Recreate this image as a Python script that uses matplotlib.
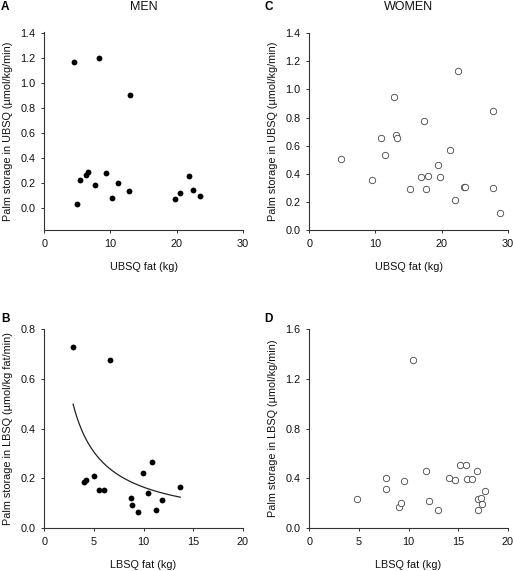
import numpy as np
import matplotlib
matplotlib.use("Agg")
from matplotlib import pyplot as plt

plt.rcParams['font.family'] = ['Liberation Sans', 'DejaVu Sans']

# Panel A - men, upper body subcutaneous fat
men_ubsq_fat = [4.5, 8.3, 13.0, 4.9, 5.45, 6.35, 6.55, 7.7, 9.4, 10.3, 11.15, 12.8,
                19.8, 20.5, 21.9, 22.5, 23.6]
men_ubsq_storage = [1.165, 1.20, 0.905, 0.035, 0.224, 0.267, 0.289, 0.18, 0.28, 0.077,
                    0.198, 0.134, 0.069, 0.118, 0.259, 0.142, 0.099]

# Panel B - men, lower body subcutaneous fat
men_lbsq_fat = [2.9, 6.6, 4.0, 4.2, 5.0, 5.55, 6.0, 8.7, 8.8, 9.4, 9.9, 10.5, 10.9,
                11.3, 11.9, 13.7]
men_lbsq_storage = [0.728, 0.677, 0.184, 0.194, 0.208, 0.153, 0.155, 0.122, 0.094, 0.063,
                    0.221, 0.142, 0.264, 0.074, 0.113, 0.164]
# power fit y = a * x^b shown in panel B
fit_a = 1.294
fit_b = -0.896
fit_range = (2.9, 13.7)

# Panel C - women, upper body subcutaneous fat
women_ubsq_fat = [4.75, 9.45, 10.9, 11.4, 12.8, 13.05, 13.25, 15.15, 16.85, 17.35, 17.7,
                  17.9, 19.4, 19.8, 21.3, 22.0, 22.45, 23.35, 23.55, 27.7, 27.75, 28.8]
women_ubsq_storage = [0.508, 0.356, 0.655, 0.532, 0.945, 0.674, 0.653, 0.294, 0.375, 0.776,
                      0.294, 0.382, 0.465, 0.38, 0.57, 0.216, 1.13, 0.308, 0.306, 0.85,
                      0.301, 0.123]

# Panel D - women, lower body subcutaneous fat
women_lbsq_fat = [4.8, 7.7, 7.7, 9.0, 9.2, 9.55, 10.4, 11.8, 12.05, 13.0, 14.05, 14.7,
                  15.2, 15.8, 15.9, 16.4, 16.9, 16.95, 17.0, 17.3, 17.4, 17.7]
women_lbsq_storage = [0.236, 0.40, 0.317, 0.172, 0.199, 0.376, 1.356, 0.462, 0.22, 0.148,
                      0.40, 0.387, 0.505, 0.507, 0.395, 0.392, 0.456, 0.231, 0.148, 0.239,
                      0.196, 0.298]


fig = plt.figure(figsize=(5.13, 5.71), dpi=100)

left1, left2, w = 0.0864, 0.603, 0.3868
axA = fig.add_axes([left1, 0.5972, w, 0.3473])
axC = fig.add_axes([left2, 0.5972, w, 0.3445])
axB = fig.add_axes([left1, 0.0753, w, 0.348])
axD = fig.add_axes([left2, 0.0753, w, 0.348])


def style(ax, xlabel, ylabel):
    for s in ['top', 'right']:
        ax.spines[s].set_visible(False)
    for s in ['left', 'bottom']:
        ax.spines[s].set_linewidth(0.8)
        ax.spines[s].set_color('#333333')
    ax.tick_params(direction='out', length=2.5, width=0.7, labelsize=7.8,
                   colors='#333333', labelcolor='#111111', pad=4)
    ax.set_xlabel(xlabel, fontsize=7.8, color='#111111')
    ax.set_ylabel(ylabel, fontsize=7.8, color='#111111')
    ax.xaxis.set_label_coords(0.5, -0.187)
    ax.xaxis.label.set_va('center')
    ax.yaxis.set_label_coords(-0.182, 0.5)
    ax.yaxis.label.set_va('center')


def filled(ax, x, y):
    ax.plot(x, y, 'o', color='black', markersize=4.2, markeredgewidth=0, clip_on=False)


def hollow(ax, x, y):
    ax.plot(x, y, 'o', markerfacecolor='white', markeredgecolor='#444444',
            markersize=4.6, markeredgewidth=0.6, clip_on=False)


# A
filled(axA, men_ubsq_fat, men_ubsq_storage)
axA.set_xlim(0, 30)
axA.set_ylim(-0.176, 1.41)
axA.set_xticks([0, 10, 20, 30])
axA.set_yticks(np.arange(0, 1.41, 0.2))
axA.yaxis.set_major_formatter(matplotlib.ticker.FormatStrFormatter('%.1f'))
style(axA, 'UBSQ fat (kg)', 'Palm storage in UBSQ (µmol/kg/min)')

# C
hollow(axC, women_ubsq_fat, women_ubsq_storage)
axC.set_xlim(0, 30)
axC.set_ylim(0, 1.4)
axC.set_xticks([0, 10, 20, 30])
axC.set_yticks(np.arange(0, 1.41, 0.2))
axC.yaxis.set_major_formatter(matplotlib.ticker.FormatStrFormatter('%.1f'))
style(axC, 'UBSQ fat (kg)', 'Palm storage in UBSQ (µmol/kg/min)')

# B
filled(axB, men_lbsq_fat, men_lbsq_storage)
xf = np.linspace(fit_range[0], fit_range[1], 200)
axB.plot(xf, fit_a * xf ** fit_b, color='#222222', linewidth=0.9)
axB.set_xlim(0, 20)
axB.set_ylim(0, 0.8)
axB.set_xticks([0, 5, 10, 15, 20])
axB.set_yticks([0, 0.2, 0.4, 0.6, 0.8])
axB.yaxis.set_major_formatter(matplotlib.ticker.FormatStrFormatter('%.1f'))
style(axB, 'LBSQ fat (kg)', 'Palm storage in LBSQ (µmol/kg fat/min)')

# D
hollow(axD, women_lbsq_fat, women_lbsq_storage)
axD.set_xlim(0, 20)
axD.set_ylim(0, 1.6)
axD.set_xticks([0, 5, 10, 15, 20])
axD.set_yticks([0, 0.4, 0.8, 1.2, 1.6])
axD.yaxis.set_major_formatter(matplotlib.ticker.FormatStrFormatter('%.1f'))
style(axD, 'LBSQ fat (kg)', 'Palm storage in LBSQ (µmol/kg/min)')

# titles and panel letters
fig.text(143.5 / 513, 1 - 7.5 / 571, 'MEN', ha='center', va='center', fontsize=9, color='#111111')
fig.text(408.3 / 513, 1 - 7.5 / 571, 'WOMEN', ha='center', va='center', fontsize=9, color='#111111')
fig.text(4.5 / 513, 1 - 7.5 / 571, 'A', ha='center', va='center', fontsize=8.5, fontweight='bold')
fig.text(269 / 513, 1 - 7.5 / 571, 'C', ha='center', va='center', fontsize=8.5, fontweight='bold')
fig.text(5 / 513, 1 - 318.5 / 571, 'B', ha='center', va='center', fontsize=8.5, fontweight='bold')
fig.text(268.5 / 513, 1 - 318.5 / 571, 'D', ha='center', va='center', fontsize=8.5, fontweight='bold')

fig.savefig('out.png', dpi=100)
